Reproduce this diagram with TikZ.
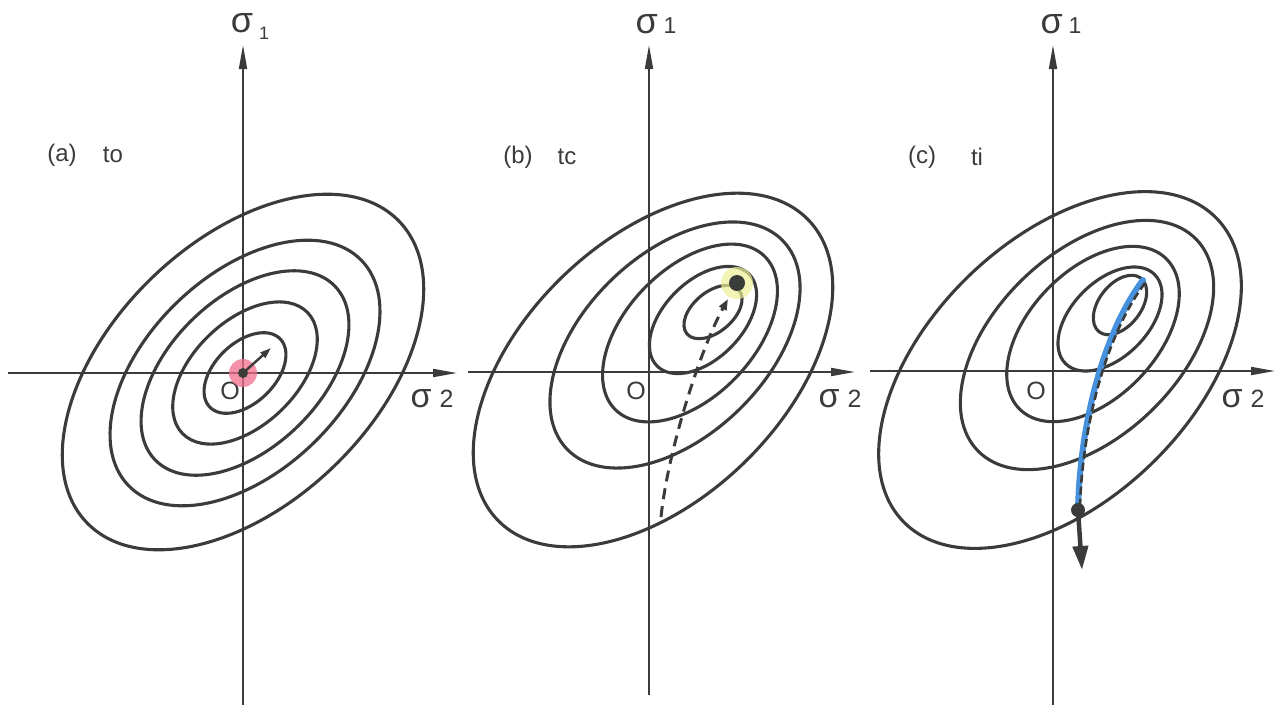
\documentclass[tikz,border=0pt]{standalone}
\usepackage{fontspec}
\setmainfont{Liberation Sans}
\usepackage{tikz}
\usetikzlibrary{arrows.meta}

\definecolor{ink}{RGB}{58,60,58}
\definecolor{markpink}{RGB}{240,110,140}
\definecolor{markyellow}{RGB}{236,240,150}
\definecolor{pathblue}{RGB}{70,145,222}

\newcommand{\sigmalow}{{\fontsize{36}{36}\selectfont σ}\hspace{6pt}\raisebox{-7pt}{\fontsize{18}{18}\selectfont 1}}
\newcommand{\sigmaone}{{\fontsize{36}{36}\selectfont σ}\hspace{6pt}{\fontsize{23}{23}\selectfont 1}}
\newcommand{\sigmatwo}{{\fontsize{34}{34}\selectfont σ}\hspace{8pt}{\fontsize{25}{25}\selectfont 2}}

\begin{document}
\begin{tikzpicture}[x=1pt,y=-1pt,
    contour/.style={draw=ink,line width=3.1pt},
    axis/.style={draw=ink,line width=1.8pt,-{Triangle[length=24pt,width=8pt]}},
    walk/.style={draw=ink,line width=3pt,dash pattern=on 11pt off 7pt,-{Triangle[length=11pt,width=8pt]}}]
\useasboundingbox (0,0) rectangle (1287,710);

\begin{scope}[every node/.style={text=ink,inner sep=0pt,font=\fontsize{24}{24}\selectfont}]
    \node (sa1) at (250,26) {\sigmalow};
    \node (sb1) at (656,24) {\sigmaone};
    \node (sc1) at (1061,24) {\sigmaone};
    \node (sa2) at (432,399) {\sigmatwo};
    \node (sb2) at (840,399) {\sigmatwo};
    \node (sc2) at (1243,399) {\sigmatwo};
    \node (oa) at (230,391) {\fontsize{25}{25}\selectfont O};
    \node (ob) at (636,391) {\fontsize{25}{25}\selectfont O};
    \node (oc) at (1036,391) {\fontsize{25}{25}\selectfont O};
    \node (la) at (62,155) {(a)};
    \node (ta) at (113,155) {to};
    \node (lb) at (518,157) {(b)};
    \node (tb) at (567,157) {tc};
    \node (lc) at (922,157) {(c)};
    \node (tc) at (977,157) {ti};
\end{scope}

% axes
\coordinate (ya0) at (243,705); \coordinate (ya1) at (243,45);
\coordinate (xa0) at (8,373);   \coordinate (xa1) at (457,373);
\coordinate (yb0) at (649,695); \coordinate (yb1) at (649,45);
\coordinate (xb0) at (468,372); \coordinate (xb1) at (855,372);
\coordinate (yc0) at (1053,705); \coordinate (yc1) at (1053,45);
\coordinate (xc0) at (870,371); \coordinate (xc1) at (1275,371);
\path (ya0) edge [axis] (ya1) (xa0) edge [axis] (xa1);
\path (yb0) edge [axis] (yb1) (xb0) edge [axis] (xb1);
\path (yc0) edge [axis] (yc1) (xc0) edge [axis] (xc1);

% (a) contours round the origin
\coordinate (ca) at (245,373);
\draw [contour,rotate around={44:(243,372)}] (243,372) ellipse [x radius=217pt,y radius=131pt];
\draw [contour,rotate around={44:(ca)}] (ca) ellipse [x radius=162pt,y radius=98pt];
\draw [contour,rotate around={44:(ca)}] (ca) ellipse [x radius=125pt,y radius=75pt];
\draw [contour,rotate around={44:(ca)}] (ca) ellipse [x radius=87pt,y radius=52pt];
\draw [contour,rotate around={44:(ca)}] (ca) ellipse [x radius=49pt,y radius=30pt];
\coordinate (pa) at (243,373); \coordinate (qa) at (271,348);
\fill [markpink,opacity=0.75] (pa) circle [radius=14pt];
\fill [ink] (pa) circle [radius=5pt];
\draw [ink,line width=2.4pt,-{Triangle[length=11pt,width=7pt]}] (pa) -- (qa);

% (b) contours moved up and right
\draw [contour,rotate around={44:(653,370)}] (653,370) ellipse [x radius=216pt,y radius=130pt];
\draw [contour,rotate around={44:(675,345)}] (675,345) ellipse [x radius=150pt,y radius=91pt];
\draw [contour,rotate around={46:(690,333)}] (690,333) ellipse [x radius=107pt,y radius=64pt];
\draw [contour,rotate around={45:(703,320)}] (703,320) ellipse [x radius=65pt,y radius=39pt];
\draw [contour,rotate around={40:(713,312)}] (713,312) ellipse [x radius=34pt,y radius=20pt];
\coordinate (pb) at (737,283); \coordinate (sb) at (661,517); \coordinate (qb) at (728,299);
\fill [markyellow,opacity=0.7] (pb) circle [radius=16pt];
\fill [ink] (pb) circle [radius=8pt];
\draw [walk] (sb) .. controls (668,450) and (700,350) .. (qb);

% (c) contours and the drift
\draw [contour,rotate around={44:(1060,370)}] (1060,370) ellipse [x radius=218pt,y radius=131pt];
\draw [contour,rotate around={44:(1087,345)}] (1087,345) ellipse [x radius=152pt,y radius=92pt];
\draw [contour,rotate around={46:(1093,334)}] (1093,334) ellipse [x radius=105pt,y radius=64pt];
\draw [contour,rotate around={45:(1110,319)}] (1110,319) ellipse [x radius=63pt,y radius=38pt];
\draw [contour,rotate around={52:(1120,305)}] (1120,305) ellipse [x radius=34pt,y radius=21pt];
\coordinate (sc) at (1143,280); \coordinate (pc) at (1078,510); \coordinate (qc) at (1082,570);
\draw [pathblue,line width=6pt,line cap=round] (sc) .. controls (1105,330) and (1080,420) .. (pc);
\draw [ink,line width=2.6pt,dash pattern=on 8pt off 4pt] (1145,283) .. controls (1108,332) and (1083,420) .. (1080,505);
\fill [ink] (pc) circle [radius=7pt];
\draw [ink,line width=4.5pt,-{Triangle[length=24pt,width=15pt]}] (pc) -- (qc);
\end{tikzpicture}
\end{document}
